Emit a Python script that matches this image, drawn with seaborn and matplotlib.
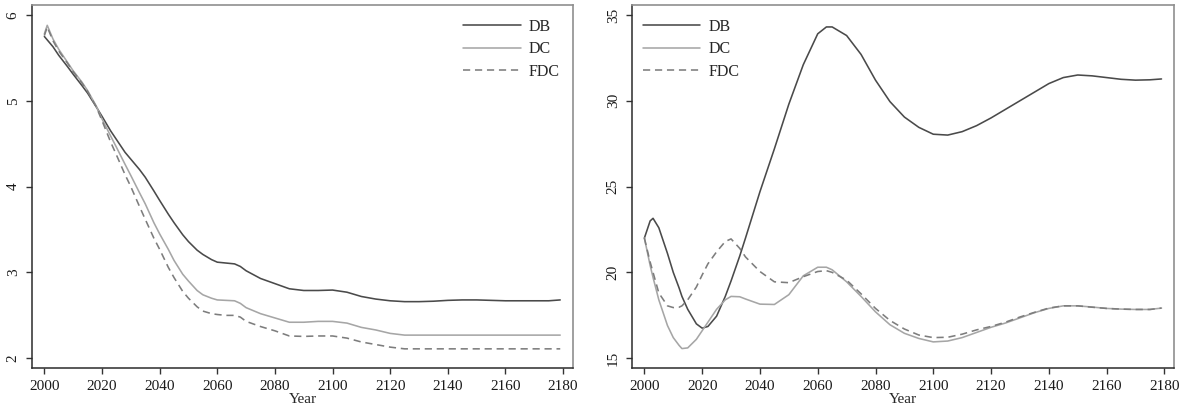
import matplotlib
matplotlib.use("Agg")
import matplotlib.pyplot as plt
import pandas as pd
import seaborn as sns

# ---- Left panel: values by year ----
left_years = [2000, 2001, 2003, 2005, 2008, 2010, 2013, 2015, 2018, 2020,
              2023, 2025, 2028, 2030, 2033, 2035, 2038, 2040, 2043, 2045,
              2048, 2050, 2053, 2055, 2058, 2060, 2063, 2066, 2068, 2070,
              2075, 2080, 2085, 2090, 2095, 2100, 2105, 2110, 2115, 2120,
              2125, 2130, 2135, 2140, 2145, 2150, 2155, 2160, 2165, 2170,
              2175, 2179]
left_db = [5.75, 5.71, 5.63, 5.53, 5.40, 5.31, 5.18, 5.09, 4.93, 4.82,
           4.65, 4.55, 4.40, 4.32, 4.20, 4.11, 3.95, 3.84, 3.68, 3.58,
           3.44, 3.36, 3.26, 3.21, 3.15, 3.12, 3.11, 3.10, 3.07, 3.02,
           2.93, 2.87, 2.81, 2.79, 2.79, 2.795, 2.77, 2.72, 2.69, 2.67,
           2.66, 2.66, 2.665, 2.675, 2.68, 2.68, 2.675, 2.67, 2.67, 2.67,
           2.67, 2.68]
left_dc = [5.78, 5.88, 5.72, 5.60, 5.45, 5.35, 5.22, 5.12, 4.94, 4.79,
           4.59, 4.46, 4.26, 4.13, 3.93, 3.80, 3.58, 3.45, 3.27, 3.14,
           2.98, 2.90, 2.79, 2.74, 2.70, 2.68, 2.675, 2.67, 2.64, 2.59,
           2.52, 2.47, 2.42, 2.42, 2.43, 2.43, 2.41, 2.36, 2.33, 2.29,
           2.27, 2.27, 2.27, 2.27, 2.27, 2.27, 2.27, 2.27, 2.27, 2.27,
           2.27, 2.27]
left_fdc = [5.76, 5.86, 5.70, 5.58, 5.44, 5.34, 5.21, 5.11, 4.93, 4.77,
            4.52, 4.37, 4.14, 4.00, 3.77, 3.62, 3.40, 3.27, 3.06, 2.94,
            2.78, 2.70, 2.60, 2.55, 2.52, 2.51, 2.50, 2.50, 2.48, 2.43,
            2.37, 2.32, 2.26, 2.255, 2.26, 2.26, 2.235, 2.19, 2.16, 2.13,
            2.11, 2.11, 2.11, 2.11, 2.11, 2.11, 2.11, 2.11, 2.11, 2.11,
            2.11, 2.11]

# ---- Right panel: values by year ----
right_years = [2000, 2002, 2003, 2005, 2008, 2010, 2012, 2013, 2015, 2018,
               2020, 2022, 2025, 2028, 2030, 2033, 2035, 2040, 2045, 2050,
               2055, 2060, 2063, 2065, 2070, 2075, 2080, 2085, 2090, 2095,
               2100, 2105, 2110, 2115, 2120, 2125, 2130, 2135, 2140, 2145,
               2150, 2155, 2160, 2165, 2170, 2175, 2179]
right_db = [22.0, 23.0, 23.15, 22.6, 21.1, 20.0, 19.1, 18.6, 17.85, 17.0,
            16.75, 16.85, 17.45, 18.6, 19.5, 20.95, 22.0, 24.7, 27.2, 29.8,
            32.1, 33.9, 34.3, 34.3, 33.8, 32.7, 31.2, 29.95, 29.05, 28.45,
            28.05, 28.0, 28.2, 28.55, 29.0, 29.5, 30.0, 30.5, 31.0, 31.35,
            31.5, 31.45, 31.35, 31.25, 31.2, 31.22, 31.27]
right_dc = [22.0, 20.4, 19.7, 18.4, 16.9, 16.2, 15.75, 15.56, 15.6, 16.1,
            16.6, 17.1, 17.85, 18.4, 18.6, 18.58, 18.45, 18.15, 18.13, 18.7,
            19.8, 20.3, 20.3, 20.15, 19.45, 18.6, 17.7, 16.95, 16.45, 16.15,
            15.95, 16.0, 16.2, 16.5, 16.8, 17.05, 17.35, 17.65, 17.9, 18.05,
            18.05, 17.98, 17.9, 17.86, 17.84, 17.84, 17.92]
right_fdc = [22.0, 20.6, 20.0, 18.8, 18.05, 17.95, 17.97, 18.05, 18.4, 19.15,
             19.85, 20.5, 21.2, 21.8, 21.95, 21.4, 20.9, 20.05, 19.45, 19.4,
             19.75, 20.05, 20.1, 20.0, 19.55, 18.75, 17.9, 17.2, 16.7, 16.35,
             16.2, 16.22, 16.4, 16.65, 16.85, 17.1, 17.4, 17.67, 17.92, 18.05,
             18.05, 17.97, 17.9, 17.86, 17.84, 17.84, 17.92]

series_names = ["DB", "DC", "FDC"]
x_ticks = [2000, 2020, 2040, 2060, 2080, 2100, 2120, 2140, 2160, 2180]
left_y_ticks = [2, 3, 4, 5, 6]
right_y_ticks = [15, 20, 25, 30, 35]


def long_frame(years, db, dc, fdc):
    n = len(years)
    return pd.DataFrame({
        "Year": list(years) * 3,
        "value": list(db) + list(dc) + list(fdc),
        "series": ["DB"] * n + ["DC"] * n + ["FDC"] * n,
    })


sns.set_style("ticks")
plt.rcParams["font.family"] = ["Liberation Serif", "DejaVu Serif"]
plt.rcParams["font.size"] = 11

palette = {"DB": "#4a4a4a", "DC": "#a6a6a6", "FDC": "#7d7d7d"}
dash_map = {"DB": "", "DC": "", "FDC": (4.5, 3.0)}

fig = plt.figure(figsize=(11.9, 4.15), dpi=100)
ax1 = fig.add_axes([0.0271, 0.1133, 0.4541, 0.8747])
ax2 = fig.add_axes([0.5313, 0.1133, 0.4552, 0.8747])

panels = [
    (ax1, long_frame(left_years, left_db, left_dc, left_fdc),
     left_y_ticks, (1.887, 6.117)),
    (ax2, long_frame(right_years, right_db, right_dc, right_fdc),
     right_y_ticks, (14.43, 35.58)),
]

for ax, df, yticks, ylim in panels:
    sns.lineplot(data=df, x="Year", y="value", hue="series", style="series",
                 hue_order=series_names, style_order=series_names,
                 palette=palette, dashes=dash_map, linewidth=1.15,
                 estimator=None, legend=False, ax=ax)
    ax.set_xlim(1995.8, 2183.3)
    ax.set_ylim(*ylim)
    ax.set_xticks(x_ticks)
    ax.set_xticklabels([str(t) for t in x_ticks])
    ax.set_yticks(yticks)
    ax.set_yticklabels([str(t) for t in yticks], rotation=90, va="center")
    ax.set_xlabel("Year", fontsize=11, labelpad=0)
    ax.set_ylabel("")
    ax.tick_params(axis="both", direction="out", length=4, width=1.0,
                   color="#333333", labelsize=11, pad=5, labelcolor="#1a1a1a")
    for side in ("left", "bottom"):
        ax.spines[side].set_color("#2b2b2b")
        ax.spines[side].set_linewidth(1.1)
    for side in ("top", "right"):
        ax.spines[side].set_visible(True)
        ax.spines[side].set_color("#8f8f8f")
        ax.spines[side].set_linewidth(1.2)

legend_kw = dict(frameon=False, fontsize=11.5, handlelength=3.6,
                 handletextpad=0.5, labelspacing=0.4, borderpad=0,
                 borderaxespad=0)
ax1.legend(ax1.lines[:3], series_names, loc="upper right",
           bbox_to_anchor=(0.976, 0.962), **legend_kw)
ax2.legend(ax2.lines[:3], series_names, loc="upper left",
           bbox_to_anchor=(0.0198, 0.962), **legend_kw)

fig.savefig("out.png", dpi=100)
